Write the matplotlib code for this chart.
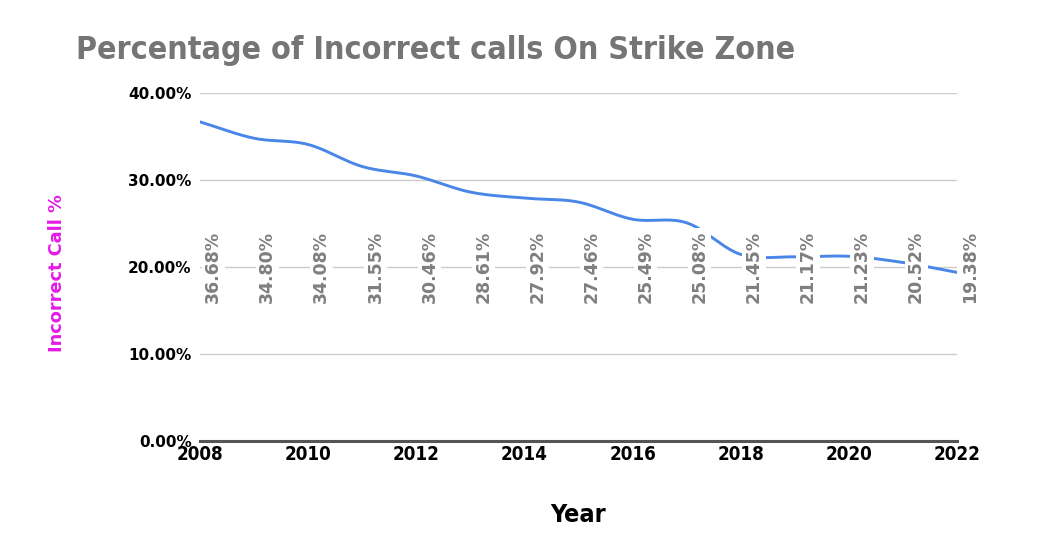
import numpy as np
import matplotlib
matplotlib.use("Agg")
import matplotlib.pyplot as plt

years = list(range(2008, 2023))
incorrect_pct = [36.68, 34.80, 34.08, 31.55, 30.46, 28.61, 27.92, 27.46,
                 25.49, 25.08, 21.45, 21.17, 21.23, 20.52, 19.38]
yticks = [0, 10, 20, 30, 40]
xticks = list(range(2008, 2023, 2))

title = "Percentage of Incorrect calls On Strike Zone"
xlabel = "Year"
ylabel = "Incorrect Call %"

WIDE = ["DejaVu Sans"]


def smooth(x, y, n=20):
    # Catmull-Rom spline for rendering a smooth line through the data points
    x = np.asarray(x, float)
    y = np.asarray(y, float)
    px = np.concatenate([[2 * x[0] - x[1]], x, [2 * x[-1] - x[-2]]])
    py = np.concatenate([[2 * y[0] - y[1]], y, [2 * y[-1] - y[-2]]])
    xs, ys = [], []
    t = np.linspace(0, 1, n, endpoint=False)
    for i in range(1, len(px) - 2):
        for arr, out in ((px, xs), (py, ys)):
            p0, p1, p2, p3 = arr[i - 1], arr[i], arr[i + 1], arr[i + 2]
            out.extend(0.5 * ((2 * p1) + (-p0 + p2) * t
                              + (2 * p0 - 5 * p1 + 4 * p2 - p3) * t ** 2
                              + (-p0 + 3 * p1 - 3 * p2 + p3) * t ** 3))
    xs.append(x[-1])
    ys.append(y[-1])
    return np.array(xs), np.array(ys)


fig = plt.figure(figsize=(10.53, 5.59), dpi=100)
ax = fig.add_axes([200 / 1053, 1 - 441 / 559, 757 / 1053, 348 / 559])

for v in yticks[1:]:
    ax.axhline(v, color="#cccccc", lw=1, zorder=1)
ax.axhline(0, color="#555555", lw=2.2, zorder=2, clip_on=False)

sx, sy = smooth(years, incorrect_pct)
ax.plot(sx, sy, color="#4a86e8", lw=2.1, zorder=3, solid_capstyle="round")

for yr, v in zip(years, incorrect_pct):
    ax.annotate(f"{v:.2f}%", xy=(yr, 20), xytext=(9.5, 0), textcoords="offset points",
                rotation=90, ha="center", va="center", color="#7f7f7f",
                fontsize=12.5, fontweight="bold", family=WIDE, zorder=4,
                bbox=dict(boxstyle="square,pad=0.15", fc="white", ec="none"))

ax.set_xlim(2008, 2022)
ax.set_ylim(0, 40)
ax.set_yticks(yticks)
ax.set_yticklabels([f"{v:.2f}%" for v in yticks], fontsize=11, fontweight="bold",
                   family=WIDE, color="black")
ax.set_xticks(xticks)
ax.set_xticklabels([str(v) for v in xticks], fontsize=13.5, fontweight="bold",
                   family=WIDE, fontstretch="condensed", color="black")
ax.tick_params(length=0, pad=6)
ax.tick_params(axis="x", pad=3)
for s in ax.spines.values():
    s.set_visible(False)

fig.text(76 / 1053, 1 - 50 / 559, title, ha="left", va="center", fontsize=23,
         fontweight="bold", family=WIDE, fontstretch="condensed", color="#757575")
fig.text(578 / 1053, 1 - 515 / 559, xlabel, ha="center", va="center", fontsize=18,
         fontweight="bold", family=WIDE, fontstretch="condensed", color="black")
fig.text(57 / 1053, 1 - 273 / 559, ylabel, ha="center", va="center", rotation=90,
         fontsize=12.8, fontweight="bold", family=WIDE, color="#e619e6")

fig.savefig("out.png", dpi=100)
